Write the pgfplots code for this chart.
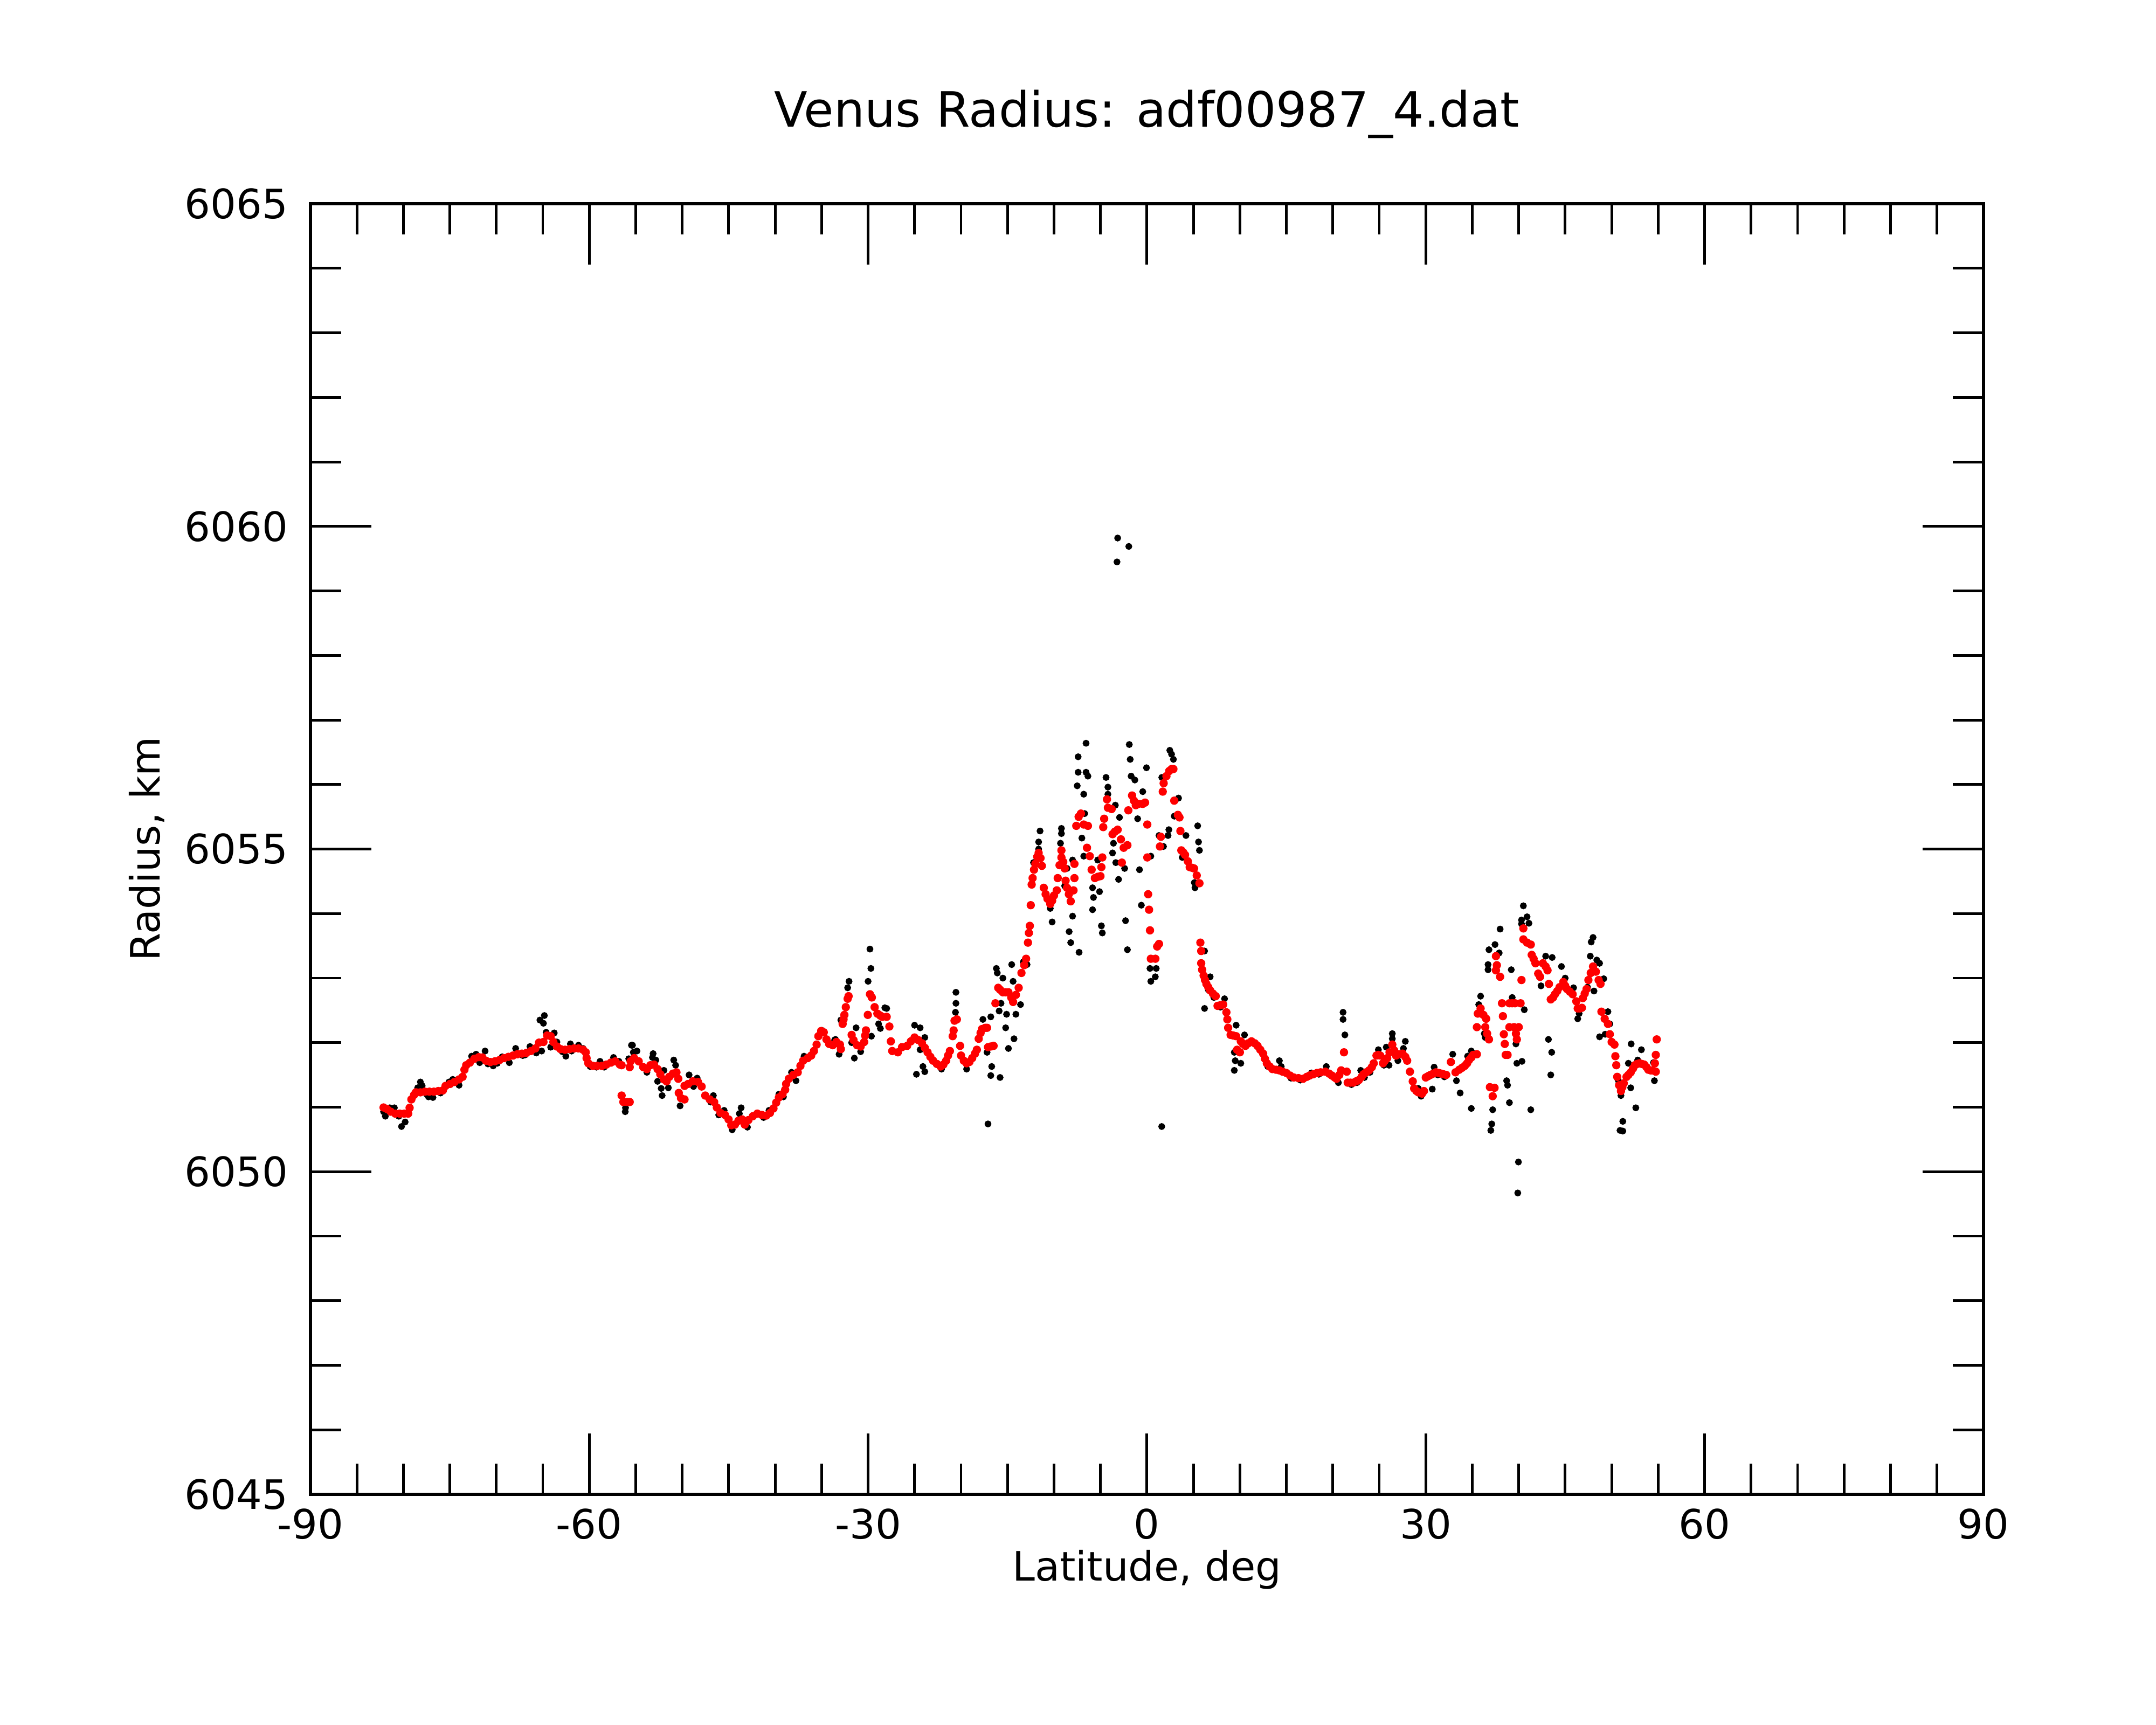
\documentclass[border=0pt]{standalone}
\usepackage{pgfplots}
\pgfplotsset{compat=1.18}
\usepackage{fontspec}
\setmainfont{DejaVu Sans}
\begin{document}
\begin{tikzpicture}
\useasboundingbox (-76.6pt,-56.8pt) rectangle (455.4pt,368.8pt);
\begin{axis}[
  at={(0,0)}, anchor=south west,
  scale only axis, width=412.8pt, height=318.5pt,
  xmin=-90, xmax=90, ymin=6045, ymax=6065,
  xtick={-90,-60,-30,0,30,60,90},
  ytick={6045,6050,6055,6060,6065},
  minor x tick num=5, minor y tick num=4,
  tick align=inside,
  major tick length=15pt, minor tick length=7.6pt,
  every tick/.style={black, line width=0.65pt},
  axis line style={line width=0.8pt},
  /pgf/number format/1000 sep={},
  /pgf/number format/assume math mode=true,
  tick label style={font=\fontsize{10}{12}\selectfont},
  yticklabel style={xshift=-2pt},
  title={Venus Radius: adf00987\_4.dat},
  title style={font=\fontsize{12}{14}\selectfont, at={(axis description cs:0.5,1)}, anchor=base, yshift=12.96pt},
  xlabel={Latitude, deg},
  xlabel style={font=\fontsize{10}{12}\selectfont, at={(axis description cs:0.5,0)}, anchor=base, yshift=-21.4pt},
  ylabel={Radius, km},
  ylabel style={font=\fontsize{10}{12}\selectfont, at={(axis description cs:-0.0901,0.5)}, anchor=base},
]
% black: raw points
\addplot [only marks, black, mark=*, mark size=0.64pt, mark options={fill=black, draw=none}] table {
-82.13 6050.93
-81.94 6050.86
-81.46 6050.99
-80.97 6050.99
-80.49 6050.86
-80.20 6050.70
-79.81 6050.77
-78.46 6051.30
-78.17 6051.39
-77.98 6051.33
-77.50 6051.20
-77.30 6051.16
-76.82 6051.15
-76.00 6051.22
-75.08 6051.39
-74.69 6051.43
-74.01 6051.34
-72.66 6051.79
-72.18 6051.82
-71.79 6051.69
-71.21 6051.87
-70.90 6051.67
-70.34 6051.64
-69.90 6051.68
-69.37 6051.78
-68.60 6051.69
-67.92 6051.91
-67.15 6051.80
-66.90 6051.81
-66.38 6051.94
-65.70 6051.84
-65.12 6051.87
-65.31 6052.35
-64.83 6052.42
-64.93 6052.30
-64.64 6052.16
-63.77 6052.15
-64.15 6051.93
-63.48 6052.01
-62.90 6051.86
-62.52 6051.79
-62.03 6051.98
-61.90 6051.87
-61.16 6051.96
-60.67 6051.91
-59.90 6051.63
-59.22 6051.62
-58.84 6051.71
-58.40 6051.62
-57.39 6051.77
-56.81 6051.71
-56.13 6050.93
-56.10 6050.99
-55.46 6051.96
-55.26 6051.85
-55.75 6051.75
-55.35 6051.96
-54.87 6051.87
-53.13 6051.83
-53.20 6051.77
-52.84 6051.73
-53.80 6051.54
-51.97 6051.57
-52.65 6051.40
-52.26 6051.29
-52.16 6051.18
-51.49 6051.30
-50.91 6051.73
-50.71 6051.65
-50.23 6051.02
-49.26 6051.50
-48.39 6051.45
-48.78 6051.32
-46.65 6051.18
-46.94 6051.08
-45.49 6050.95
-46.07 6050.88
-44.62 6050.65
-43.66 6050.99
-43.85 6050.90
-42.98 6050.69
-41.24 6050.84
-40.66 6050.95
-39.60 6051.20
-39.11 6051.16
-38.24 6051.54
-37.76 6051.41
-36.89 6051.79
-34.96 6052.19
-33.60 6052.04
-33.51 6052.05
-33.12 6051.82
-32.93 6052.35
-32.20 6052.85
-32.05 6052.95
-31.29 6052.23
-31.48 6051.76
-30.80 6051.86
-31.77 6052.00
-30.00 6052.95
-29.80 6053.45
-29.70 6053.15
-29.64 6052.10
-28.87 6052.29
-28.68 6052.22
-28.20 6052.54
-28.00 6052.53
-25.00 6052.27
-24.40 6052.23
-23.90 6052.08
-24.40 6051.89
-24.10 6051.63
-24.80 6051.51
-23.90 6051.55
-22.10 6051.59
-20.55 6052.78
-20.55 6052.61
-20.60 6052.47
-19.40 6051.59
-17.65 6052.36
-16.80 6052.40
-17.20 6051.85
-16.70 6051.63
-16.80 6051.49
-15.80 6051.46
-17.10 6050.74
-16.20 6053.15
-16.10 6053.08
-15.50 6053.00
-15.90 6052.49
-15.70 6052.61
-15.10 6052.44
-15.20 6052.23
-14.10 6052.44
-14.30 6052.06
-14.90 6051.91
-14.55 6053.21
-14.40 6052.95
-13.60 6052.59
-12.90 6053.21
-13.30 6053.25
-12.20 6054.79
-11.65 6055.00
-11.65 6055.11
-11.50 6055.28
-10.40 6054.08
-10.20 6053.87
-9.20 6055.32
-9.20 6055.24
-9.30 6055.09
-8.60 6054.70
-8.85 6054.43
-8.37 6053.72
-8.20 6053.55
-8.00 6053.96
-7.30 6053.40
-8.00 6054.83
-7.50 6055.98
-7.40 6056.19
-7.40 6056.43
-6.55 6056.64
-6.55 6056.19
-6.35 6056.13
-6.80 6055.85
-7.00 6055.17
-6.80 6054.89
-6.70 6055.55
-5.85 6054.40
-5.75 6054.25
-5.85 6054.06
-5.10 6054.34
-4.90 6053.81
-4.80 6053.70
-5.30 6054.83
-4.40 6056.11
-4.20 6055.96
-4.20 6055.85
-3.40 6055.68
-2.95 6055.49
-3.60 6055.09
-3.70 6054.94
-3.35 6054.79
-3.05 6054.53
-2.40 6054.70
-2.30 6053.89
-2.10 6053.44
-1.90 6056.62
-1.80 6056.39
-1.70 6056.13
-1.30 6056.07
-1.00 6055.47
-0.80 6054.68
-0.60 6054.13
-0.45 6055.89
-0.05 6056.26
0.42 6054.89
0.33 6053.15
0.42 6052.95
-3.15 6059.82
-1.95 6059.69
-3.22 6059.45
2.46 6056.53
2.65 6056.47
2.85 6056.39
1.60 6056.11
3.40 6055.79
2.94 6055.51
2.36 6055.30
2.27 6055.21
4.20 6055.21
5.46 6055.36
5.55 6055.11
5.65 6054.98
3.80 6054.87
1.30 6055.21
1.78 6055.04
5.17 6054.40
5.10 6054.48
1.00 6053.15
0.90 6053.02
6.20 6053.42
6.60 6052.82
6.80 6053.02
7.20 6052.70
7.90 6052.55
8.35 6052.68
6.20 6052.53
9.60 6052.27
10.50 6052.12
9.40 6051.85
9.50 6051.72
10.10 6051.68
9.40 6051.57
12.00 6051.92
13.00 6051.63
14.25 6051.72
14.45 6051.63
15.50 6051.45
16.50 6051.42
17.70 6051.53
18.50 6051.51
19.30 6051.63
20.60 6051.38
21.10 6052.47
21.10 6052.36
21.30 6052.12
22.00 6051.35
22.60 6051.38
23.00 6051.57
23.40 6051.46
24.00 6051.54
24.90 6051.89
26.40 6052.14
26.40 6052.06
25.75 6051.93
27.80 6052.02
27.60 6051.91
27.00 6051.72
25.50 6051.65
26.05 6051.65
29.20 6051.29
29.50 6051.17
1.59 6050.70
30.90 6051.62
30.70 6051.28
31.30 6051.50
32.00 6051.47
32.90 6051.82
33.30 6051.41
33.70 6051.22
34.90 6050.98
34.50 6051.79
34.90 6051.87
35.90 6052.72
35.70 6052.59
36.30 6052.14
36.40 6052.08
37.20 6050.96
37.10 6050.74
37.00 6050.64
38.00 6053.76
37.45 6053.52
36.80 6053.44
37.90 6053.39
36.70 6053.21
36.70 6053.13
39.20 6053.13
38.70 6051.41
38.80 6051.34
39.00 6051.07
39.30 6052.70
39.80 6051.68
40.35 6051.71
39.70 6051.98
40.60 6052.51
39.97 6050.15
39.90 6049.67
40.50 6054.12
40.90 6053.95
41.10 6053.85
40.30 6053.90
40.30 6053.84
41.30 6050.96
42.40 6052.88
42.90 6053.34
43.60 6053.32
43.20 6052.05
43.55 6051.85
43.45 6051.50
44.60 6053.18
45.00 6053.00
45.90 6052.85
46.35 6052.37
46.50 6052.45
47.40 6052.86
47.80 6053.56
48.00 6053.63
47.70 6053.34
48.40 6053.28
48.70 6053.23
49.15 6052.99
48.10 6052.80
49.60 6052.48
49.80 6052.29
48.70 6052.09
49.30 6052.13
50.70 6051.42
52.10 6051.98
53.20 6051.89
51.80 6051.68
52.80 6051.73
53.70 6051.62
54.50 6051.69
54.60 6051.41
52.05 6051.30
51.00 6051.18
52.60 6050.99
51.20 6050.78
50.90 6050.64
51.20 6050.63
};
% red: smoothed points
\addplot [only marks, red, mark=*, mark size=0.82pt, mark options={fill=red, draw=none}] table {
-82.13 6050.995
-81.75 6050.97
-81.36 6050.93
-80.87 6050.90
-80.39 6050.90
-79.91 6050.90
-79.48 6050.90
-79.33 6050.99
-79.14 6051.12
-78.85 6051.19
-78.65 6051.23
-78.17 6051.23
-77.69 6051.24
-77.20 6051.24
-76.72 6051.24
-76.24 6051.25
-75.75 6051.26
-75.46 6051.33
-74.98 6051.36
-74.50 6051.39
-74.01 6051.43
-73.63 6051.47
-73.43 6051.58
-73.24 6051.65
-72.85 6051.69
-72.37 6051.75
-71.89 6051.775
-71.50 6051.77
-71.11 6051.72
-70.63 6051.70
-70.15 6051.71
-69.66 6051.73
-69.18 6051.76
-68.70 6051.78
-68.21 6051.80
-67.73 6051.82
-67.25 6051.83
-66.77 6051.84
-66.28 6051.87
-65.80 6051.91
-65.41 6052.00
-64.93 6052.01
-64.54 6052.11
-64.15 6052.10
-63.86 6052.01
-63.48 6051.94
-63.09 6051.90
-62.61 6051.89
-62.12 6051.90
-61.64 6051.91
-61.16 6051.91
-60.67 6051.89
-60.38 6051.85
-60.29 6051.76
-60.10 6051.68
-59.61 6051.64
-59.13 6051.64
-58.64 6051.64
-58.16 6051.66
-57.68 6051.69
-57.20 6051.71
-56.71 6051.66
-56.52 6051.65
-56.52 6051.18
-56.33 6051.08
-55.94 6051.08
-55.65 6051.08
-55.65 6051.62
-55.55 6051.71
-55.17 6051.76
-54.68 6051.71
-54.19 6051.62
-53.80 6051.59
-53.42 6051.65
-53.03 6051.66
-52.65 6051.59
-52.36 6051.51
-51.97 6051.43
-51.68 6051.40
-51.39 6051.47
-51.00 6051.52
-50.62 6051.54
-50.42 6051.44
-50.37 6051.22
-50.13 6051.14
-49.75 6051.12
-49.75 6051.33
-49.36 6051.36
-48.87 6051.40
-48.30 6051.39
-47.91 6051.32
-47.52 6051.18
-47.04 6051.12
-46.56 6051.08
-46.27 6050.995
-45.88 6050.91
-45.40 6050.88
-45.01 6050.81
-44.72 6050.72
-44.33 6050.73
-43.95 6050.79
-43.56 6050.81
-43.27 6050.73
-42.88 6050.80
-42.40 6050.86
-41.92 6050.90
-41.43 6050.88
-40.95 6050.87
-40.56 6050.91
-40.18 6050.98
-39.89 6051.07
-39.60 6051.15
-39.21 6051.20
-38.92 6051.27
-38.82 6051.36
-38.53 6051.44
-38.05 6051.50
-37.57 6051.54
-37.28 6051.64
-36.99 6051.72
-36.50 6051.76
-36.12 6051.80
-35.83 6051.87
-35.54 6051.97
-35.35 6052.10
-35.05 6052.18
-34.77 6052.16
-34.48 6052.05
-34.19 6051.98
-33.80 6051.96
-33.41 6052.01
-33.03 6051.97
-32.93 6051.90
-32.74 6052.29
-32.64 6052.36
-32.55 6052.43
-32.40 6052.55
-32.20 6052.68
-32.10 6052.72
-31.77 6052.12
-31.57 6052.04
-31.19 6051.96
-30.80 6051.94
-30.42 6052.01
-30.32 6052.11
-30.23 6052.19
-30.03 6052.43
-29.80 6052.75
-29.60 6052.70
-29.30 6052.55
-29.00 6052.45
-28.70 6052.42
-28.48 6052.40
-28.00 6052.40
-27.71 6052.25
-27.55 6052.02
-27.40 6051.87
-26.80 6051.85
-26.35 6051.93
-25.80 6051.95
-25.40 6052.02
-25.00 6052.08
-24.60 6052.04
-24.20 6051.99
-23.90 6051.92
-23.60 6051.85
-23.30 6051.78
-23.00 6051.72
-22.60 6051.67
-22.20 6051.63
-21.90 6051.66
-21.60 6051.72
-21.40 6051.80
-21.20 6051.87
-20.90 6052.10
-20.80 6052.19
-20.70 6052.34
-20.45 6052.36
-20.10 6051.95
-20.00 6051.80
-19.70 6051.72
-19.40 6051.68
-19.10 6051.70
-18.80 6051.76
-18.50 6051.83
-18.30 6051.89
-18.10 6052.06
-17.90 6052.15
-17.75 6052.21
-17.40 6052.23
-17.20 6052.23
-17.10 6051.93
-16.80 6051.94
-16.50 6051.95
-16.30 6052.61
-16.00 6052.85
-15.80 6052.82
-15.50 6052.78
-15.20 6052.78
-14.90 6052.78
-14.60 6052.70
-14.40 6052.63
-14.10 6052.74
-13.80 6052.85
-13.50 6053.08
-13.20 6053.20
-13.00 6053.30
-12.80 6053.55
-12.70 6053.70
-12.60 6053.81
-12.50 6054.13
-12.40 6054.45
-12.30 6054.55
-12.15 6054.68
-12.00 6054.77
-11.80 6054.88
-11.65 6054.94
-11.45 6054.86
-11.30 6054.74
-11.10 6054.40
-10.90 6054.30
-10.70 6054.23
-10.40 6054.15
-10.20 6054.20
-10.00 6054.28
-9.70 6054.36
-9.60 6054.55
-9.40 6054.75
-9.20 6054.87
-9.20 6054.98
-9.00 6054.80
-8.85 6054.70
-8.75 6054.51
-8.60 6054.40
-8.40 6054.30
-8.20 6054.19
-7.90 6054.36
-7.80 6054.55
-7.80 6054.77
-7.60 6055.36
-7.35 6055.50
-7.10 6055.55
-6.80 6055.38
-6.35 6055.36
-6.45 6055.02
-6.15 6054.89
-5.95 6054.68
-5.60 6054.55
-5.30 6054.57
-5.00 6054.58
-4.90 6054.72
-4.80 6054.87
-4.70 6055.34
-4.60 6055.47
-4.30 6055.77
-4.20 6055.64
-3.80 6055.62
-3.70 6055.23
-3.45 6055.27
-3.15 6055.30
-2.80 6055.15
-2.50 6055.02
-2.10 6055.06
-2.70 6054.79
-2.00 6055.60
-1.60 6055.83
-1.40 6055.75
-1.20 6055.68
-0.90 6055.70
-0.45 6055.70
-0.20 6055.72
0.04 6055.38
0.04 6054.87
0.13 6054.30
0.23 6054.06
0.33 6053.74
0.42 6053.30
0.91 6053.30
1.10 6053.49
1.30 6053.53
1.40 6055.04
1.50 6055.19
1.70 6055.89
1.80 6056.02
2.10 6056.13
2.40 6056.21
2.65 6056.24
2.85 6056.24
2.94 6055.75
3.33 6055.53
3.50 6055.49
3.60 6055.28
3.70 6054.98
3.90 6054.95
4.10 6054.91
4.40 6054.81
4.60 6054.72
4.85 6054.71
5.07 6054.70
5.36 6054.59
5.65 6054.47
5.75 6053.55
5.84 6053.42
5.84 6053.23
5.94 6053.13
6.10 6053.04
6.25 6052.97
6.40 6052.91
6.60 6052.86
6.80 6052.81
7.10 6052.76
7.40 6052.72
7.60 6052.57
7.90 6052.58
8.20 6052.59
8.55 6052.47
8.65 6052.36
8.74 6052.23
9.00 6052.12
9.30 6052.11
9.60 6052.10
9.70 6051.89
10.00 6051.85
10.10 6052.02
10.35 6051.98
10.60 6051.95
10.90 6051.99
11.25 6052.02
11.60 6051.99
11.90 6051.95
12.20 6051.89
12.50 6051.83
12.70 6051.75
12.90 6051.68
13.20 6051.63
13.50 6051.59
13.90 6051.58
14.25 6051.57
14.60 6051.55
15.00 6051.53
15.40 6051.49
15.80 6051.46
16.30 6051.45
16.80 6051.44
17.20 6051.47
17.50 6051.49
17.90 6051.51
18.30 6051.53
18.70 6051.54
19.20 6051.55
19.60 6051.52
19.90 6051.49
20.20 6051.46
20.40 6051.44
20.70 6051.50
20.90 6051.57
21.20 6051.85
21.50 6051.55
21.60 6051.38
21.90 6051.38
22.20 6051.38
22.50 6051.40
22.80 6051.42
23.10 6051.47
23.30 6051.51
23.60 6051.54
23.90 6051.57
24.20 6051.62
24.40 6051.68
24.70 6051.80
24.90 6051.81
25.10 6051.80
25.40 6051.68
25.60 6051.72
25.85 6051.76
26.10 6051.85
26.40 6051.97
26.60 6051.88
26.80 6051.80
27.10 6051.82
27.50 6051.83
27.80 6051.78
28.00 6051.72
28.30 6051.55
28.60 6051.40
28.75 6051.29
29.00 6051.25
29.20 6051.23
29.60 6051.21
29.80 6051.25
30.00 6051.46
30.25 6051.48
30.50 6051.50
30.80 6051.52
31.10 6051.54
31.40 6051.53
31.65 6051.52
31.90 6051.51
32.20 6051.50
32.70 6051.70
33.20 6051.54
33.60 6051.58
33.90 6051.61
34.20 6051.64
34.45 6051.68
34.65 6051.73
34.90 6051.77
35.10 6051.81
35.50 6051.82
35.50 6052.24
35.60 6052.45
35.90 6052.53
36.20 6052.43
36.50 6052.37
36.40 6052.24
36.60 6052.14
36.80 6052.05
36.90 6051.31
37.40 6051.30
37.20 6051.17
37.55 6053.34
37.65 6053.20
37.55 6053.12
38.00 6053.02
38.20 6052.61
38.30 6052.41
38.40 6052.13
38.50 6051.98
38.60 6051.81
38.80 6051.81
39.00 6052.61
39.30 6052.61
39.60 6052.61
40.20 6052.61
39.00 6052.24
39.50 6052.24
40.00 6052.24
39.70 6052.14
39.80 6052.05
40.30 6052.97
40.50 6053.77
40.50 6053.60
40.90 6053.55
41.30 6053.52
41.40 6053.36
41.60 6053.30
41.80 6053.23
42.10 6053.07
42.30 6053.02
42.60 6053.23
42.90 6053.18
43.10 6053.12
43.25 6052.91
43.45 6052.67
43.70 6052.70
43.90 6052.75
44.15 6052.80
44.40 6052.86
44.80 6052.94
45.00 6052.88
45.20 6052.83
45.50 6052.79
45.80 6052.75
46.20 6052.64
46.35 6052.53
46.60 6052.53
46.80 6052.54
46.90 6052.69
47.10 6052.76
47.30 6052.83
47.50 6052.97
47.75 6053.08
48.00 6053.18
48.30 6053.10
48.60 6052.97
48.80 6052.91
48.90 6052.48
49.25 6052.37
49.60 6052.29
49.80 6052.13
50.00 6052.01
50.30 6051.97
50.40 6051.79
50.50 6051.65
50.60 6051.47
50.80 6051.34
51.00 6051.25
51.15 6051.31
51.30 6051.37
51.60 6051.47
51.80 6051.50
52.05 6051.54
52.30 6051.60
52.50 6051.65
52.75 6051.67
53.00 6051.68
53.25 6051.67
53.50 6051.66
53.75 6051.62
53.95 6051.58
54.20 6051.57
54.40 6051.57
54.75 6051.55
54.65 6051.68
54.75 6051.81
54.85 6052.05
};
\end{axis}
\end{tikzpicture}
\end{document}
